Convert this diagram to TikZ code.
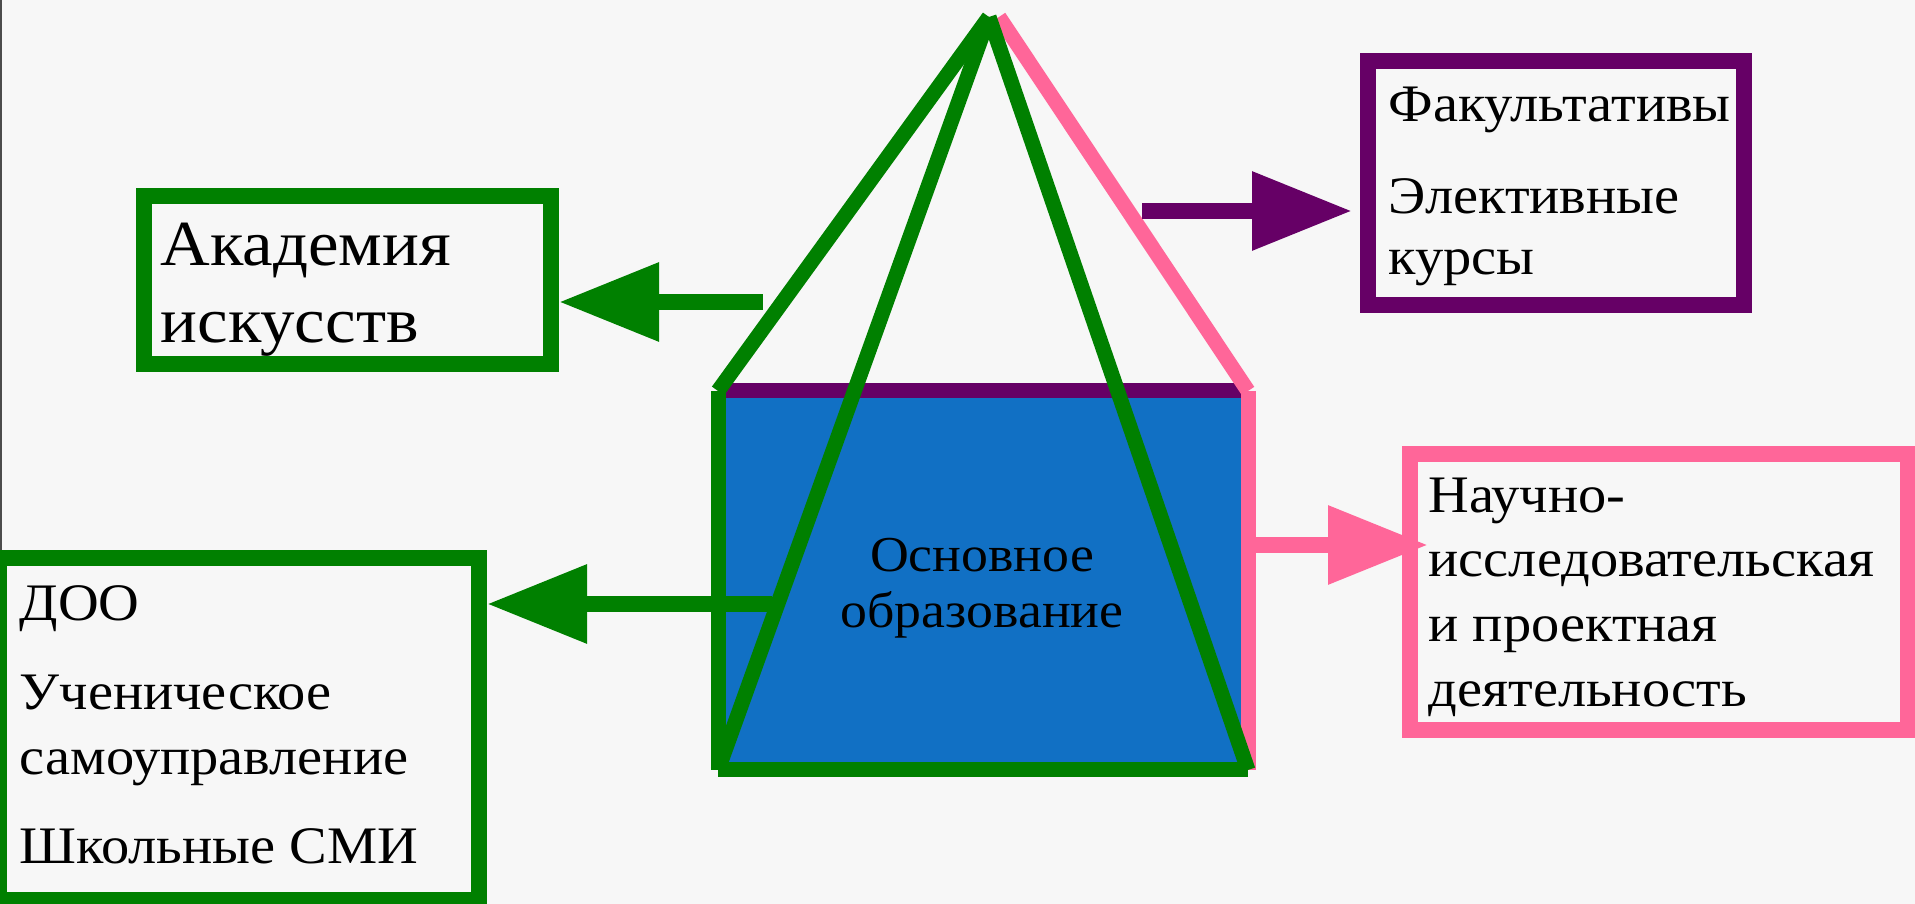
\documentclass[tikz,border=0pt]{standalone}
\usepackage{fontspec}
\setmainfont{Liberation Serif}[FakeStretch=1.07]
\usetikzlibrary{arrows.meta}
\definecolor{bggrey}{RGB}{247,247,247}
\definecolor{dgreen}{RGB}{0,128,0}
\definecolor{plum}{RGB}{102,0,102}
\definecolor{rosa}{RGB}{255,102,153}
\definecolor{baseblue}{RGB}{17,112,196}

\begin{document}
\begin{tikzpicture}[x=0.1mm, y=-0.1mm,
		frame/.style={draw, line width=1.6mm, inner sep=0pt},
		txt/.style={inner sep=0pt, anchor=north west, align=left, font=\fontsize{15}{18.5}\selectfont},
		edge/.style={line width=1.5mm},
		pointer/.style={line width=1.6mm, -{Triangle[length=10mm, width=7.5mm]}}]
		\useasboundingbox (0,0) rectangle (1915,904);
		\fill[bggrey] (0,0) rectangle (1915,904);
		\clip (0,0) rectangle (1915,904);
		\draw[line width=0.2mm, black!70] (1,0) -- (1,552);
		% boxes
		\node[frame, draw=dgreen, minimum width=40.7mm, minimum height=16.8mm] (akad) at (347.5,280) {};
		\node[frame, draw=dgreen, minimum width=48mm, minimum height=34.2mm] (doo) at (239,729) {};
		\node[frame, draw=plum, minimum width=37.6mm, minimum height=24.4mm] (fak) at (1556,183) {};
		\node[frame, draw=rosa, minimum width=49.8mm, minimum height=27.6mm] (nauch) at (1659,592) {};
		% pyramid
		\coordinate (apex) at (989,17);
		\coordinate (tl) at (718,391);
		\coordinate (tr) at (1248,391);
		\coordinate (bl) at (718,770);
		\coordinate (br) at (1248,770);
		\fill[baseblue] (tl) rectangle (br);
		\draw[edge, plum] (tl) -- (tr);
		\draw[edge, dgreen] (tl) -- (bl);
		\draw[edge, rosa] (tr) -- (br);
		\draw[edge, dgreen] (bl) -- (br);
		\draw[edge, rosa] (999,17) -- (tr);
		\draw[edge, dgreen] (apex) -- (tl);
		\draw[edge, dgreen] (apex) -- (bl);
		\draw[edge, dgreen] (apex) -- (br);
		% arrows
		\coordinate (akadtail) at (763,302);
		\coordinate (dootail) at (772,604);
		\coordinate (faktail) at (1142,211);
		\coordinate (nauchtail) at (1248,545);
		\draw[pointer, dgreen] (akadtail) -- (akadtail -| akad.east);
		\draw[pointer, dgreen] (dootail) -- (dootail -| doo.east);
		\draw[pointer, plum, shorten >=0.8mm] (faktail) -- (faktail -| fak.west);
		\draw[pointer, rosa, shorten >=-2.6mm] (nauchtail) -- (nauchtail -| nauch.west);
		% texts
		\node[txt, font=\fontsize{18.3}{21.9}\selectfont] (akadtxt) at (160,222) {Академия\\искусств};
		\node[txt] (dootxt) at (19,585) {ДОО\\[6.8pt]Ученическое\\самоуправление\\[6.8pt]Школьные СМИ};
		\node[txt, font=\fontsize{15}{17.4}\selectfont] (faktxt) at (1388,86) {Факультативы\\[8.8pt]Элективные\\курсы};
		\node[txt, font=\fontsize{15}{18.4}\selectfont] (nauchtxt) at (1428,477) {Научно-\\исследовательская\\и проектная\\деятельность};
		\node[txt, anchor=north, align=center, font=\fontsize{14.3}{15.8}\selectfont] (osn) at (982,538) {Основное\\образование};
	\end{tikzpicture}
\end{document}
